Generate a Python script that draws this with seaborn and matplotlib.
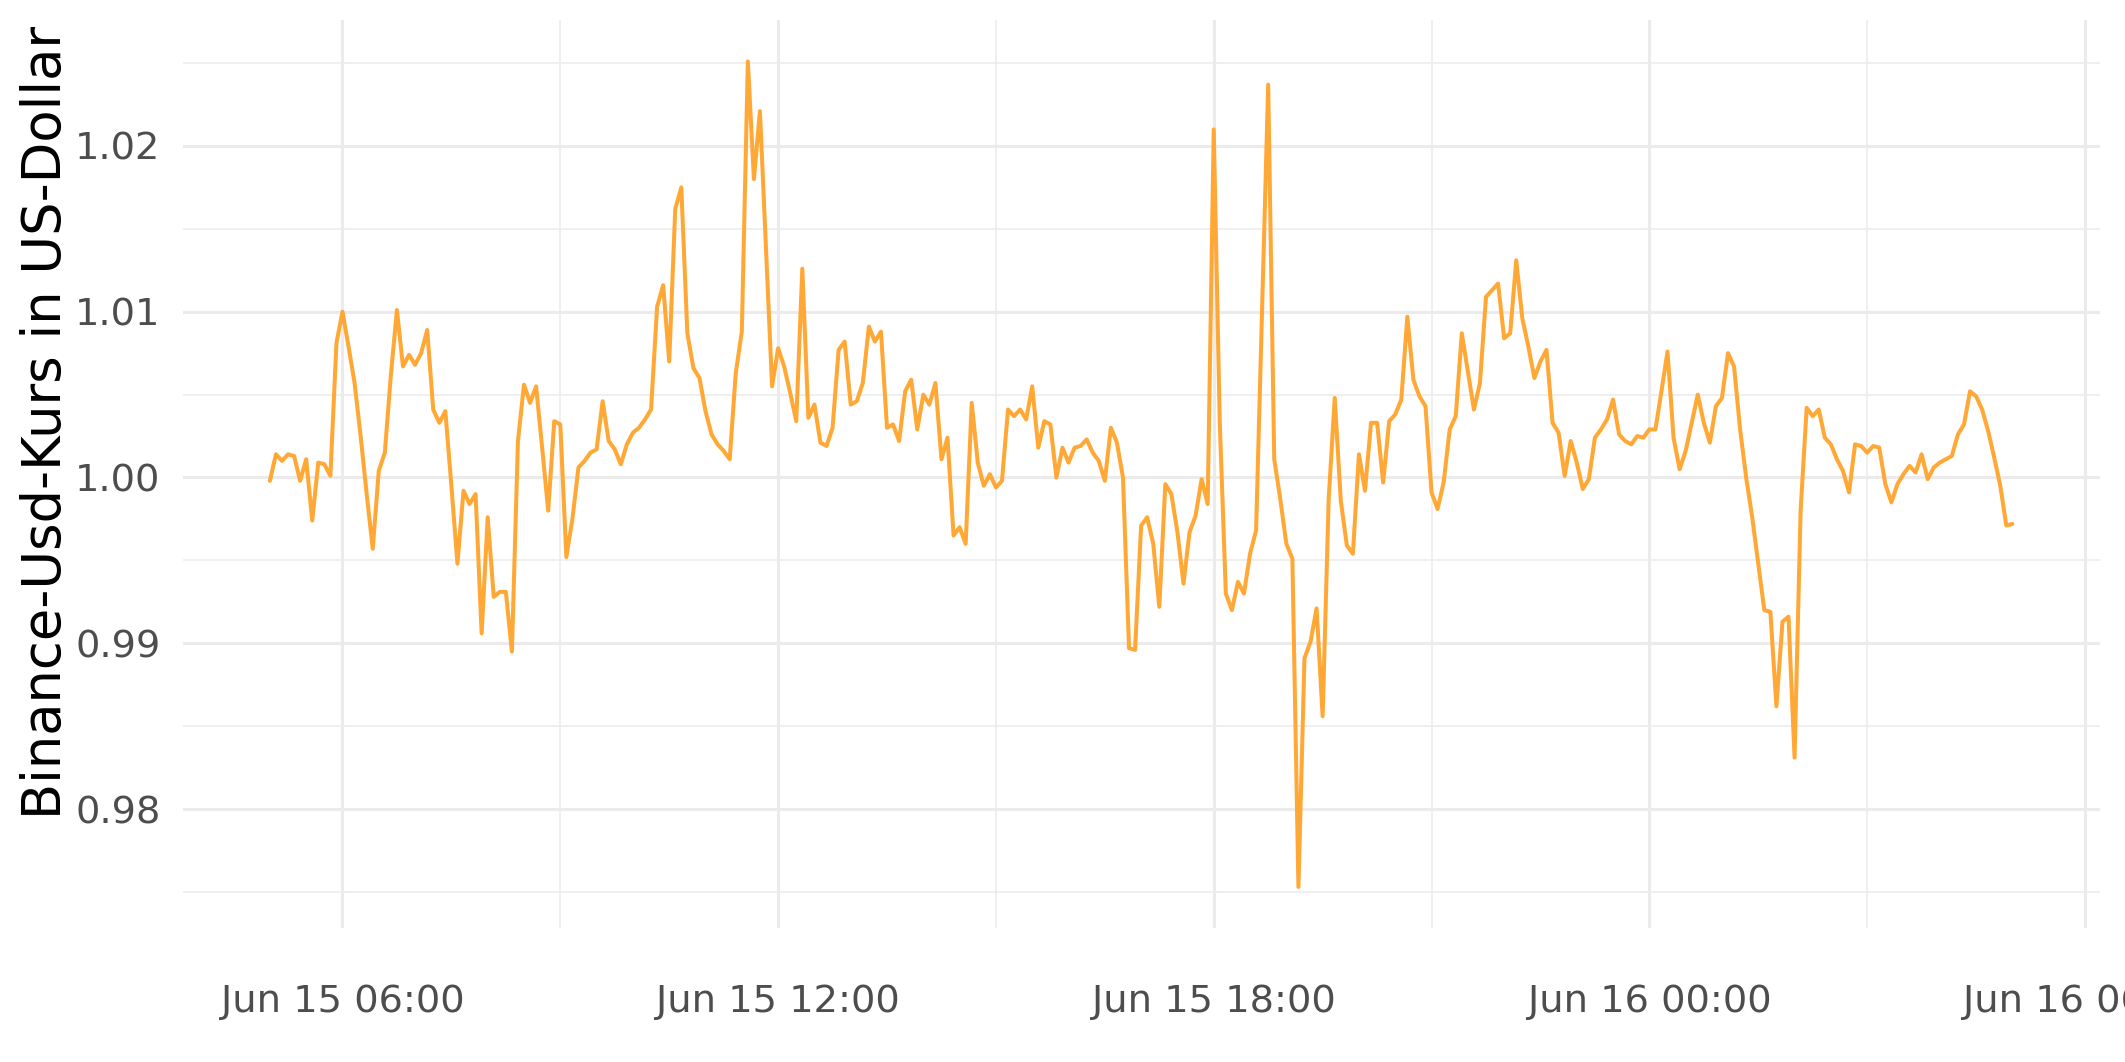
import pandas as pd
import numpy as np
import seaborn as sns
import matplotlib.pyplot as plt
import matplotlib.dates as mdates
from matplotlib.ticker import MultipleLocator, FormatStrFormatter

# Binance-USD-Kurs, 5-Minuten-Werte ab 15. Juni 05:00
start = "2023-06-15 05:00"
kurs = [
    0.9998, 1.0014, 1.0010, 1.0014, 1.0013, 0.9998, 1.0011, 0.9974, 1.0009, 1.0008,
    1.0001, 1.0081, 1.0100, 1.0079, 1.0057, 1.0025, 0.9990, 0.9957, 1.0004, 1.0015,
    1.0062, 1.0101, 1.0067, 1.0074, 1.0068, 1.0075, 1.0089, 1.0041, 1.0033, 1.0040,
    0.9995, 0.9948, 0.9992, 0.9984, 0.9990, 0.9906, 0.9976, 0.9928, 0.9931, 0.9931,
    0.9895, 1.0022, 1.0056, 1.0045, 1.0055, 1.0018, 0.9980, 1.0034, 1.0032, 0.9952,
    0.9975, 1.0006, 1.0010, 1.0015, 1.0017, 1.0046, 1.0022, 1.0017, 1.0008, 1.0020,
    1.0027, 1.0030, 1.0035, 1.0041, 1.0103, 1.0116, 1.0070, 1.0162, 1.0175, 1.0087,
    1.0066, 1.0060, 1.0040, 1.0026, 1.0020, 1.0016, 1.0011, 1.0063, 1.0088, 1.0251,
    1.0180, 1.0221, 1.0138, 1.0055, 1.0078, 1.0067, 1.0051, 1.0034, 1.0126, 1.0036,
    1.0044, 1.0021, 1.0019, 1.0030, 1.0077, 1.0082, 1.0044, 1.0046, 1.0057, 1.0091,
    1.0082, 1.0088, 1.0030, 1.0032, 1.0022, 1.0052, 1.0059, 1.0029, 1.0050, 1.0044,
    1.0057, 1.0011, 1.0024, 0.9965, 0.9970, 0.9960, 1.0045, 1.0009, 0.9995, 1.0002,
    0.9994, 0.9998, 1.0041, 1.0037, 1.0041, 1.0035, 1.0055, 1.0018, 1.0034, 1.0032,
    1.0000, 1.0018, 1.0009, 1.0018, 1.0019, 1.0023, 1.0015, 1.0010, 0.9998, 1.0030,
    1.0021, 1.0000, 0.9897, 0.9896, 0.9971, 0.9976, 0.9960, 0.9922, 0.9996, 0.9990,
    0.9967, 0.9936, 0.9967, 0.9977, 0.9999, 0.9984, 1.0210, 1.0033, 0.9930, 0.9920,
    0.9937, 0.9930, 0.9954, 0.9968, 1.0102, 1.0237, 1.0011, 0.9987, 0.9960, 0.9951,
    0.9753, 0.9891, 0.9901, 0.9921, 0.9856, 0.9987, 1.0048, 0.9986, 0.9959, 0.9954,
    1.0014, 0.9992, 1.0033, 1.0033, 0.9997, 1.0034, 1.0038, 1.0047, 1.0097, 1.0059,
    1.0049, 1.0043, 0.9991, 0.9981, 0.9997, 1.0029, 1.0037, 1.0087, 1.0064, 1.0041,
    1.0057, 1.0109, 1.0113, 1.0117, 1.0084, 1.0087, 1.0131, 1.0096, 1.0079, 1.0060,
    1.0070, 1.0077, 1.0033, 1.0027, 1.0001, 1.0022, 1.0009, 0.9993, 0.9999, 1.0024,
    1.0029, 1.0035, 1.0047, 1.0026, 1.0022, 1.0020, 1.0025, 1.0024, 1.0029, 1.0029,
    1.0052, 1.0076, 1.0024, 1.0005, 1.0016, 1.0033, 1.0050, 1.0033, 1.0021, 1.0043,
    1.0048, 1.0075, 1.0067, 1.0029, 1.0000, 0.9976, 0.9948, 0.9920, 0.9919, 0.9862,
    0.9913, 0.9916, 0.9831, 0.9980, 1.0042, 1.0037, 1.0041, 1.0024, 1.0020, 1.0011,
    1.0004, 0.9991, 1.0020, 1.0019, 1.0015, 1.0019, 1.0018, 0.9996, 0.9985, 0.9996,
    1.0002, 1.0007, 1.0003, 1.0014, 0.9999, 1.0006, 1.0009, 1.0011, 1.0013, 1.0026,
    1.0032, 1.0052, 1.0049, 1.0041, 1.0028, 1.0012, 0.9995, 0.9971, 0.9972,
]
y_ticks = [0.98, 0.99, 1.00, 1.01, 1.02]

zeit = pd.date_range(start, periods=len(kurs), freq="5min")
df = pd.DataFrame({"zeit": zeit, "kurs": kurs})

sns.set_theme(style="whitegrid")
plt.rcParams['font.family'] = ['DejaVu Sans']

fig, ax = plt.subplots(figsize=(10.625, 5.31), dpi=200)
fig.subplots_adjust(left=0.086, right=0.988, top=0.981, bottom=0.126)

sns.lineplot(data=df, x="zeit", y="kurs", color="#FFA836", linewidth=1.45, ax=ax)

# Achsen im ggplot-minimal-Stil
ax.xaxis.set_major_locator(mdates.HourLocator(byhour=[0, 6, 12, 18]))
ax.xaxis.set_minor_locator(mdates.HourLocator(byhour=[3, 9, 15, 21]))
ax.xaxis.set_major_formatter(mdates.DateFormatter("%b %d %H:%M"))
ax.set_yticks(y_ticks)
ax.yaxis.set_minor_locator(MultipleLocator(0.005))
ax.yaxis.set_major_formatter(FormatStrFormatter("%.2f"))

ax.grid(which="major", color="#EBEBEB", linewidth=1.1)
ax.grid(which="minor", color="#EBEBEB", linewidth=0.55)
ax.set_facecolor("white")
for s in ax.spines.values():
    s.set_visible(False)

ax.tick_params(axis="both", which="both", length=0, labelsize=13.8, labelcolor="#4D4D4D")
ax.tick_params(axis="x", pad=20)
ax.tick_params(axis="y", pad=8)

ax.set_xlabel("")
ax.set_ylabel("Binance-Usd-Kurs in US-Dollar", fontsize=19, color="black")
ax.yaxis.set_label_coords(-0.058, 0.557)

fig.savefig("out.png", dpi=200, facecolor="white")
